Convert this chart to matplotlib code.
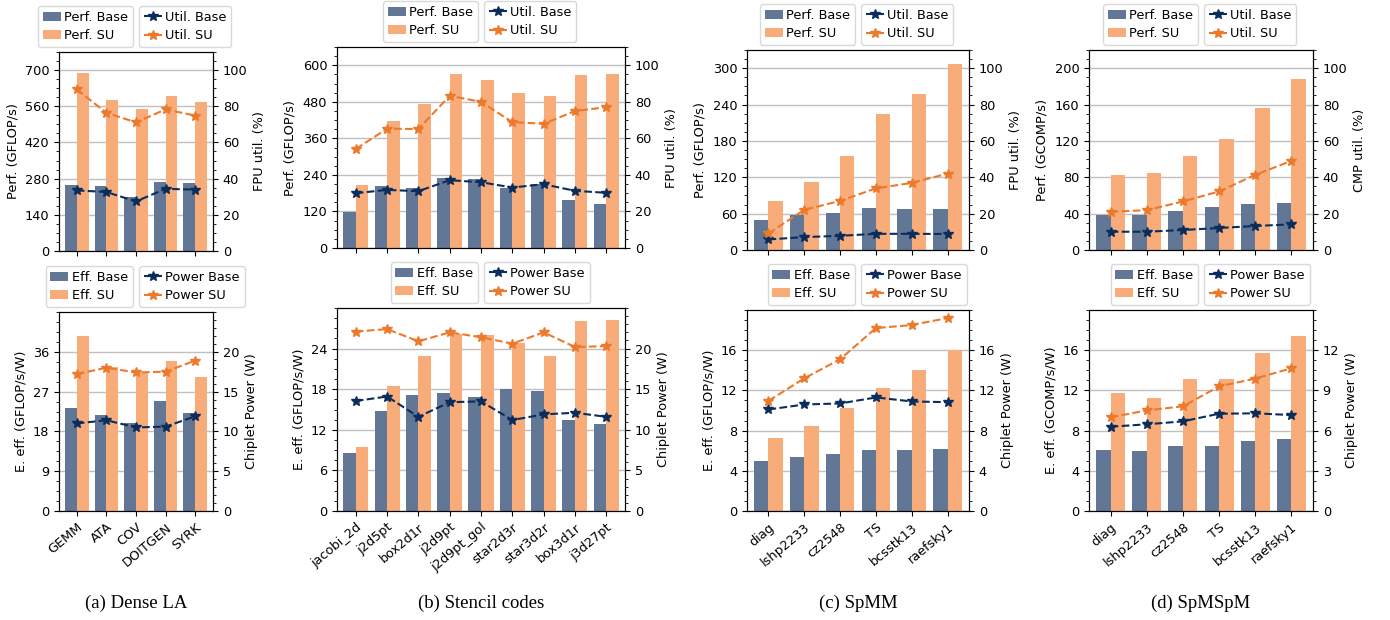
import matplotlib
matplotlib.use("Agg")
import matplotlib.pyplot as plt
from matplotlib.ticker import AutoMinorLocator, FixedLocator

plt.rcParams["font.family"] = ["DejaVu Sans"]
plt.rcParams["font.size"] = 9.3

# ---------------- data ----------------
# (a) Dense LA
dense_cats = ["GEMM", "ATA", "COV", "DOITGEN", "SYRK"]
dense_perf_base = [256, 251, 208, 267, 263]
dense_perf_su = [687, 584, 549, 599, 576]
dense_util_base = [33.5, 32.6, 27.4, 34.4, 33.9]
dense_util_su = [89.3, 76.4, 71.1, 78.3, 74.8]
dense_eff_base = [23.2, 21.8, 19.8, 24.8, 22.1]
dense_eff_su = [39.6, 32.5, 31.5, 34.0, 30.4]
dense_pow_base = [11.0, 11.4, 10.5, 10.6, 11.9]
dense_pow_su = [17.2, 18.0, 17.4, 17.5, 18.9]
dense_perf_ticks = [0, 140, 280, 420, 560, 700]
dense_eff_ticks = [0, 9, 18, 27, 36]
dense_pow_ticks = [0, 5, 10, 15, 20]

# (b) Stencil codes
sten_cats = ["jacobi_2d", "j2d5pt", "box2d1r", "j2d9pt", "j2d9pt_gol",
             "star2d3r", "star3d2r", "box3d1r", "j3d27pt"]
sten_perf_base = [117, 205, 198, 231, 228, 198, 209, 158, 145]
sten_perf_su = [208, 417, 472, 570, 551, 508, 498, 567, 570]
sten_util_base = [30.0, 31.8, 31.1, 37.1, 36.0, 33.1, 34.9, 31.3, 30.2]
sten_util_su = [54.2, 65.3, 65.1, 83.3, 80.0, 68.9, 68.0, 74.9, 77.1]
sten_eff_base = [8.6, 14.75, 17.2, 17.5, 16.9, 18.0, 17.7, 13.5, 12.9]
sten_eff_su = [9.5, 18.5, 22.9, 26.1, 26.0, 24.8, 22.9, 28.1, 28.2]
sten_pow_base = [13.55, 14.1, 11.6, 13.4, 13.5, 11.2, 11.9, 12.1, 11.6]
sten_pow_su = [22.1, 22.4, 20.9, 22.0, 21.4, 20.6, 22.0, 20.2, 20.3]
sten_perf_ticks = [0, 120, 240, 360, 480, 600]
sten_eff_ticks = [0, 6, 12, 18, 24]
sten_pow_ticks = [0, 5, 10, 15, 20]

# (c) SpMM
spmm_cats = ["diag", "lshp2233", "cz2548", "TS", "bcsstk13", "raefsky1"]
spmm_perf_base = [49, 57.5, 60.8, 69, 67.3, 67.3]
spmm_perf_su = [80.5, 111.7, 154.4, 225, 258, 307.6]
spmm_util_base = [5.8, 7.1, 7.8, 8.9, 8.9, 8.8]
spmm_util_su = [9.1, 22.1, 27.0, 33.9, 36.9, 42.0]
spmm_eff_base = [4.98, 5.38, 5.68, 6.08, 6.08, 6.18]
spmm_eff_su = [7.28, 8.47, 10.27, 12.26, 14.05, 16.0]
spmm_pow_base = [10.1, 10.6, 10.7, 11.3, 10.9, 10.83]
spmm_pow_su = [10.96, 13.2, 15.1, 18.2, 18.5, 19.2]
spmm_perf_ticks = [0, 60, 120, 180, 240, 300]
spmm_eff_ticks = [0, 4, 8, 12, 16]
spmm_pow_ticks = [0, 4, 8, 12, 16]

# (d) SpMSpM
spmspm_cats = ["diag", "lshp2233", "cz2548", "TS", "bcsstk13", "raefsky1"]
spmspm_perf_base = [38.4, 38.4, 43.1, 47.5, 50.8, 51.9]
spmspm_perf_su = [82.6, 84.5, 103.5, 122.1, 156.1, 187.6]
spmspm_util_base = [10.05, 10.05, 11.0, 12.1, 13.2, 14.1]
spmspm_util_su = [21.0, 21.9, 26.7, 32.2, 41.3, 49.0]
spmspm_eff_base = [6.08, 5.98, 6.48, 6.48, 6.98, 7.18]
spmspm_eff_su = [11.76, 11.26, 13.16, 13.16, 15.75, 17.44]
spmspm_pow_base = [6.29, 6.47, 6.69, 7.26, 7.29, 7.16]
spmspm_pow_su = [6.99, 7.51, 7.81, 9.3, 9.88, 10.65]
spmspm_perf_ticks = [0, 40, 80, 120, 160, 200]
spmspm_eff_ticks = [0, 4, 8, 12, 16]
spmspm_pow_ticks = [0, 3, 6, 9, 12]

util_ticks = [0, 20, 40, 60, 80, 100]
captions = ["(a) Dense LA", "(b) Stencil codes", "(c) SpMM", "(d) SpMSpM"]

# ---------------- style ----------------
C_BAR_BASE = "#627696"
C_BAR_SU = "#f8ac7a"
C_LINE_BASE = "#0b2d5b"
C_LINE_SU = "#ec7a2c"

W, H = 1390, 620
fig = plt.figure(figsize=(W / 100, H / 100), dpi=100)


def px_axes(x0, y0, x1, y1):
    return fig.add_axes([x0 / W, 1 - y1 / H, (x1 - x0) / W, (y1 - y0) / H])


def draw(ax, cats, vb, vs, lb, ls, lticks, rticks, lbl_l, lbl_r,
         bar_names, line_names, show_xlabels):
    n = len(cats)
    x = list(range(n))
    w = 0.4
    b1 = ax.bar([i - w / 2 for i in x], vb, width=w, color=C_BAR_BASE, zorder=2)
    b2 = ax.bar([i + w / 2 for i in x], vs, width=w, color=C_BAR_SU, zorder=2)
    ax.set_xlim(-0.6, n - 0.4)
    ax.set_ylim(0, lticks[-1] * (1.1 if len(lticks) == 6 else 1.25))
    ax.yaxis.set_major_locator(FixedLocator(lticks))
    ax.yaxis.set_minor_locator(AutoMinorLocator())
    ax.grid(axis="y", color="#c0c0c0", linewidth=1.0, zorder=0)
    ax.set_axisbelow(True)
    ax.set_ylabel(lbl_l)
    ax.set_xticks(x)
    if show_xlabels:
        ax.set_xticklabels(cats, rotation=40, ha="right", rotation_mode="anchor")
    else:
        ax.set_xticklabels([])

    ax2 = ax.twinx()
    l1, = ax2.plot(x, lb, linestyle="--", marker="*", color=C_LINE_BASE,
                   markersize=7.5, linewidth=1.5)
    l2, = ax2.plot(x, ls, linestyle="--", marker="*", color=C_LINE_SU,
                   markersize=7.5, linewidth=1.5)
    ax2.set_ylim(0, rticks[-1] * (1.1 if len(rticks) == 6 else 1.25))
    ax2.yaxis.set_major_locator(FixedLocator(rticks))
    ax2.yaxis.set_minor_locator(AutoMinorLocator())
    ax2.set_ylabel(lbl_r)

    bb = ax.get_position()
    wpx = bb.width * W
    hpx = bb.height * H
    common = dict(fontsize=9.3, handlelength=1.4, handletextpad=0.3,
                  borderpad=0.35, borderaxespad=0, labelspacing=0.45,
                  framealpha=0.8, edgecolor="#d0d0d0")
    leg1 = ax2.legend([b1, b2], bar_names, loc="lower right",
                      bbox_to_anchor=(0.5 - 3 / wpx, 1 + 5 / hpx), **common)
    ax2.add_artist(leg1)
    ax2.legend([l1, l2], line_names, loc="lower left",
               bbox_to_anchor=(0.5 + 3 / wpx, 1 + 5 / hpx), **common)


panels = [
    (dict(top=(59, 52, 213, 251), bot=(59, 312, 213, 511)),
     dense_cats, dense_perf_base, dense_perf_su, dense_util_base, dense_util_su,
     dense_eff_base, dense_eff_su, dense_pow_base, dense_pow_su,
     dense_perf_ticks, dense_eff_ticks, dense_pow_ticks,
     "Perf. (GFLOP/s)", "FPU util. (%)", "E. eff. (GFLOP/s/W)"),
    (dict(top=(337, 47, 625, 248), bot=(337, 308, 625, 511)),
     sten_cats, sten_perf_base, sten_perf_su, sten_util_base, sten_util_su,
     sten_eff_base, sten_eff_su, sten_pow_base, sten_pow_su,
     sten_perf_ticks, sten_eff_ticks, sten_pow_ticks,
     "Perf. (GFLOP/s)", "FPU util. (%)", "E. eff. (GFLOP/s/W)"),
    (dict(top=(747, 50, 969, 250), bot=(747, 310, 969, 511)),
     spmm_cats, spmm_perf_base, spmm_perf_su, spmm_util_base, spmm_util_su,
     spmm_eff_base, spmm_eff_su, spmm_pow_base, spmm_pow_su,
     spmm_perf_ticks, spmm_eff_ticks, spmm_pow_ticks,
     "Perf. (GFLOP/s)", "FPU util. (%)", "E. eff. (GFLOP/s/W)"),
    (dict(top=(1089, 50, 1313, 250), bot=(1089, 310, 1313, 511)),
     spmspm_cats, spmspm_perf_base, spmspm_perf_su, spmspm_util_base, spmspm_util_su,
     spmspm_eff_base, spmspm_eff_su, spmspm_pow_base, spmspm_pow_su,
     spmspm_perf_ticks, spmspm_eff_ticks, spmspm_pow_ticks,
     "Perf. (GCOMP/s)", "CMP util. (%)", "E. eff. (GCOMP/s/W)"),
]

for (pos, cats, pb, ps, ub, us, eb, es, wb, ws, pt, et, wt,
     lp, lu, le), cap in zip(panels, captions):
    axt = px_axes(*pos["top"])
    draw(axt, cats, pb, ps, ub, us, pt, util_ticks, lp, lu,
         ["Perf. Base", "Perf. SU"], ["Util. Base", "Util. SU"], False)
    axb = px_axes(*pos["bot"])
    draw(axb, cats, eb, es, wb, ws, et, wt, le, "Chiplet Power (W)",
         ["Eff. Base", "Eff. SU"], ["Power Base", "Power SU"], True)
    x0, _, x1, _ = pos["top"]
    fig.text((x0 + x1) / 2 / W, 1 - 603 / H, cap, ha="center", va="center",
             fontsize=13.5, family=["Liberation Serif", "DejaVu Serif"])

fig.savefig("out.png", dpi=100)
